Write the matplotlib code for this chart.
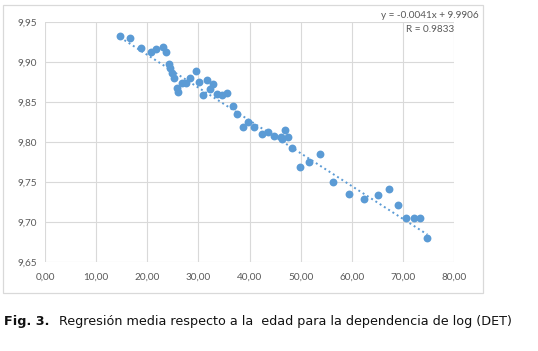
import matplotlib
matplotlib.use("Agg")
import matplotlib.pyplot as plt
from matplotlib.patches import Rectangle
import numpy as np

# ---- data ----
age = [14.7, 16.7, 18.8, 20.7, 21.8, 23.1, 23.7, 24.2, 24.5, 24.8,
       25.2, 25.8, 26.1, 26.8, 27.6, 28.4, 29.6, 30.2, 31.0, 31.7,
       32.2, 32.9, 33.7, 34.6, 35.6, 36.7, 37.6, 38.7, 39.7, 40.9,
       42.5, 43.7, 44.8, 46.1, 46.4, 46.9, 47.5, 48.4, 49.9, 51.7,
       53.8, 56.3, 59.4, 62.3, 65.2, 67.3, 69.0, 70.6, 72.1, 73.4, 74.8]
det = [9.932, 9.929, 9.917, 9.912, 9.916, 9.918, 9.912, 9.897, 9.892, 9.886,
       9.879, 9.867, 9.862, 9.873, 9.873, 9.879, 9.888, 9.874, 9.858, 9.877,
       9.866, 9.872, 9.860, 9.858, 9.861, 9.845, 9.835, 9.818, 9.824, 9.818,
       9.809, 9.812, 9.807, 9.806, 9.803, 9.815, 9.806, 9.792, 9.768, 9.774,
       9.784, 9.750, 9.734, 9.728, 9.733, 9.741, 9.721, 9.705, 9.705, 9.704, 9.680]
slope = -0.0041
intercept = 9.9906
eq_label = "y = -0.0041x + 9.9906"
r_label = "R = 0.9833"
x_ticks = [0, 10, 20, 30, 40, 50, 60, 70, 80]
y_ticks = [9.65, 9.70, 9.75, 9.80, 9.85, 9.90, 9.95]
caption_bold = "Fig. 3."
caption_text = "Regresión media respecto a la  edad para la dependencia de log (DET)"

W, H = 538, 351
fig = plt.figure(figsize=(W / 100, H / 100), dpi=100)
fig.patch.set_facecolor("white")

# chart border
fig.patches.append(Rectangle((3 / W, 1 - 293 / H), 480 / W, 288 / H,
                             transform=fig.transFigure, fill=False,
                             edgecolor="#D9D9D9", linewidth=0.9))

ax = fig.add_axes([45 / W, 1 - 261.7 / H, (454 - 45) / W, (261.7 - 21.7) / H])
ax.set_xlim(0, 80)
ax.set_ylim(9.65, 9.95)
ax.set_xticks(x_ticks)
ax.set_yticks(y_ticks)
ax.set_xticklabels([f"{v:.2f}".replace(".", ",") for v in x_ticks])
ax.set_yticklabels([f"{v:.2f}".replace(".", ",") for v in y_ticks])
for s in ax.spines.values():
    s.set_visible(False)
ax.grid(True, color="#D9D9D9", linewidth=0.8)
ax.set_axisbelow(True)
ax.tick_params(length=0, labelsize=7.2, labelcolor="#595959")
ax.tick_params(axis="x", pad=8)
ax.tick_params(axis="y", pad=6)
for lab in ax.get_xticklabels() + ax.get_yticklabels():
    lab.set_fontfamily("Lato")

ax.scatter(age, det, s=32, color="#5B9BD5", zorder=3, linewidths=0)

xs = np.array([min(age), max(age)])
ax.plot(xs, slope * xs + intercept, color="#5B9BD5", linewidth=1.4,
        linestyle=(0, (1, 1.6)), zorder=2)

fig.text(430 / W, 1 - 16 / H, eq_label, ha="center", va="center",
         fontsize=7.2, color="#595959", family="Lato")
fig.text(430 / W, 1 - 29 / H, r_label, ha="center", va="center",
         fontsize=7.2, color="#595959", family="Lato")

fig.text(4 / W, 1 - 322 / H, caption_bold, ha="left", va="center",
         fontsize=9.2, fontweight="bold", color="#111111", family="DejaVu Sans")
fig.text(59 / W, 1 - 322 / H, caption_text, ha="left", va="center",
         fontsize=9.2, color="#111111", family="DejaVu Sans")

fig.savefig("out.png", dpi=100)
